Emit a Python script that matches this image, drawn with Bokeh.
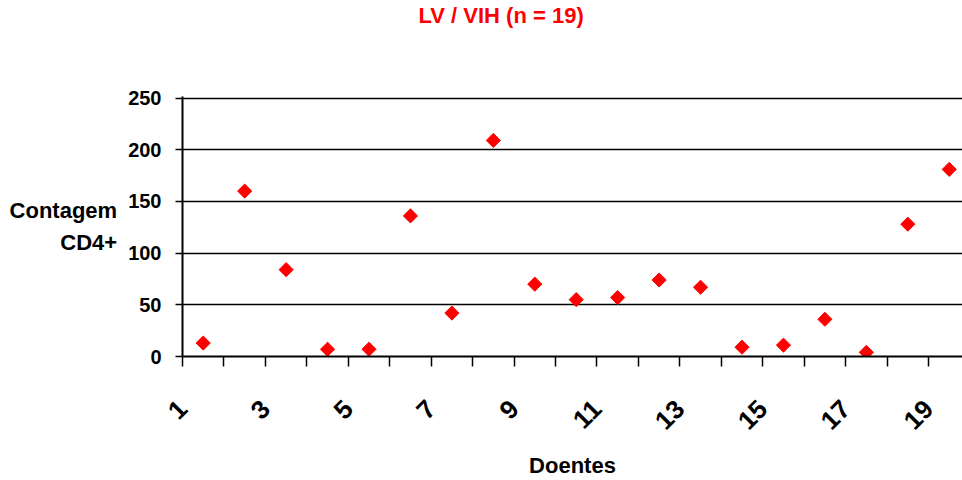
import math
from bokeh.plotting import figure
from bokeh.models import Range1d, FixedTicker
from bokeh.embed import file_html
from bokeh.resources import INLINE

# ---- data ----
patients = list(range(1, 20))
cd4 = [13, 160, 84, 7, 7, 136, 42, 209, 70, 55, 57, 74, 67, 9, 11, 36, 4, 128, 181]
y_ticks = [0, 50, 100, 150, 200, 250]
title_text = "LV / VIH (n = 19)"
x_title = "Doentes"
y_title = "Contagem\nCD4+"

FONT = "Liberation Sans"

p = figure(width=962, height=480, output_backend="svg", toolbar_location=None,
           x_range=Range1d(0.5, 19.32), y_range=Range1d(0, 251.5),
           min_border_left=182, min_border_top=96, min_border_bottom=123,
           min_border_right=0)
p.outline_line_color = None
p.background_fill_color = "white"

p.scatter(patients, cd4, marker="square", angle=math.pi / 4, size=10,
          fill_color="#ff0000", line_color="#ff0000")

# title (blank trailing lines lift it to the top of the page)
p.title.text = title_text + "\n \n \n "
p.title.text_color = "#ff0000"
p.title.text_font = FONT
p.title.text_font_style = "bold"
p.title.text_font_size = "22px"
p.title.text_line_height = 0.92
p.title.align = "left"
p.title.offset = 236
p.title.standoff = 0

# x axis: ticks at cell boundaries, labels on odd patients
xt = [i - 0.5 for i in patients]
p.xaxis.ticker = FixedTicker(ticks=xt)
p.xaxis.major_label_overrides = {t: (str(int(t + 0.5)) if int(t + 0.5) % 2 == 1 else "") for t in xt}
p.xaxis.major_label_orientation = math.pi / 4
p.xaxis.major_label_text_font = FONT
p.xaxis.major_label_text_font_style = "bold"
p.xaxis.major_label_text_font_size = "26px"
p.xaxis.major_label_text_color = "black"
p.xaxis.major_label_standoff = 38
p.xaxis.major_tick_out = 10
p.xaxis.major_tick_in = 0
p.xaxis.major_tick_line_width = 1.5
p.xaxis.minor_tick_line_color = None
p.xaxis.axis_line_width = 2
p.xaxis.axis_line_color = "black"
p.xaxis.major_tick_line_color = "black"
p.xaxis.axis_label = x_title
p.xaxis.axis_label_text_font = FONT
p.xaxis.axis_label_text_font_style = "bold"
p.xaxis.axis_label_text_font_size = "22px"
p.xaxis.axis_label_text_color = "black"
p.xaxis.axis_label_standoff = 12

p.yaxis.ticker = FixedTicker(ticks=y_ticks)
p.yaxis.major_label_text_font = FONT
p.yaxis.major_label_text_font_style = "bold"
p.yaxis.major_label_text_font_size = "20px"
p.yaxis.major_label_text_color = "black"
p.yaxis.major_label_standoff = 14
p.yaxis.major_tick_out = 7
p.yaxis.major_tick_in = 0
p.yaxis.major_tick_line_width = 1.5
p.yaxis.minor_tick_line_color = None
p.yaxis.axis_line_width = 2
p.yaxis.axis_line_color = "black"
p.yaxis.major_tick_line_color = "black"
p.yaxis.axis_label = y_title
p.yaxis.axis_label_orientation = "horizontal"
p.yaxis.axis_label_text_font = FONT
p.yaxis.axis_label_text_font_style = "bold"
p.yaxis.axis_label_text_font_size = "22px"
p.yaxis.axis_label_text_color = "black"
p.yaxis.axis_label_text_align = "center"
p.yaxis.axis_label_text_line_height = 1.28
p.yaxis.axis_label_standoff = 8

p.xgrid.grid_line_color = None
p.ygrid.grid_line_color = "black"
p.ygrid.grid_line_width = 1.5

open("out.html", "w").write(file_html(p, INLINE))
